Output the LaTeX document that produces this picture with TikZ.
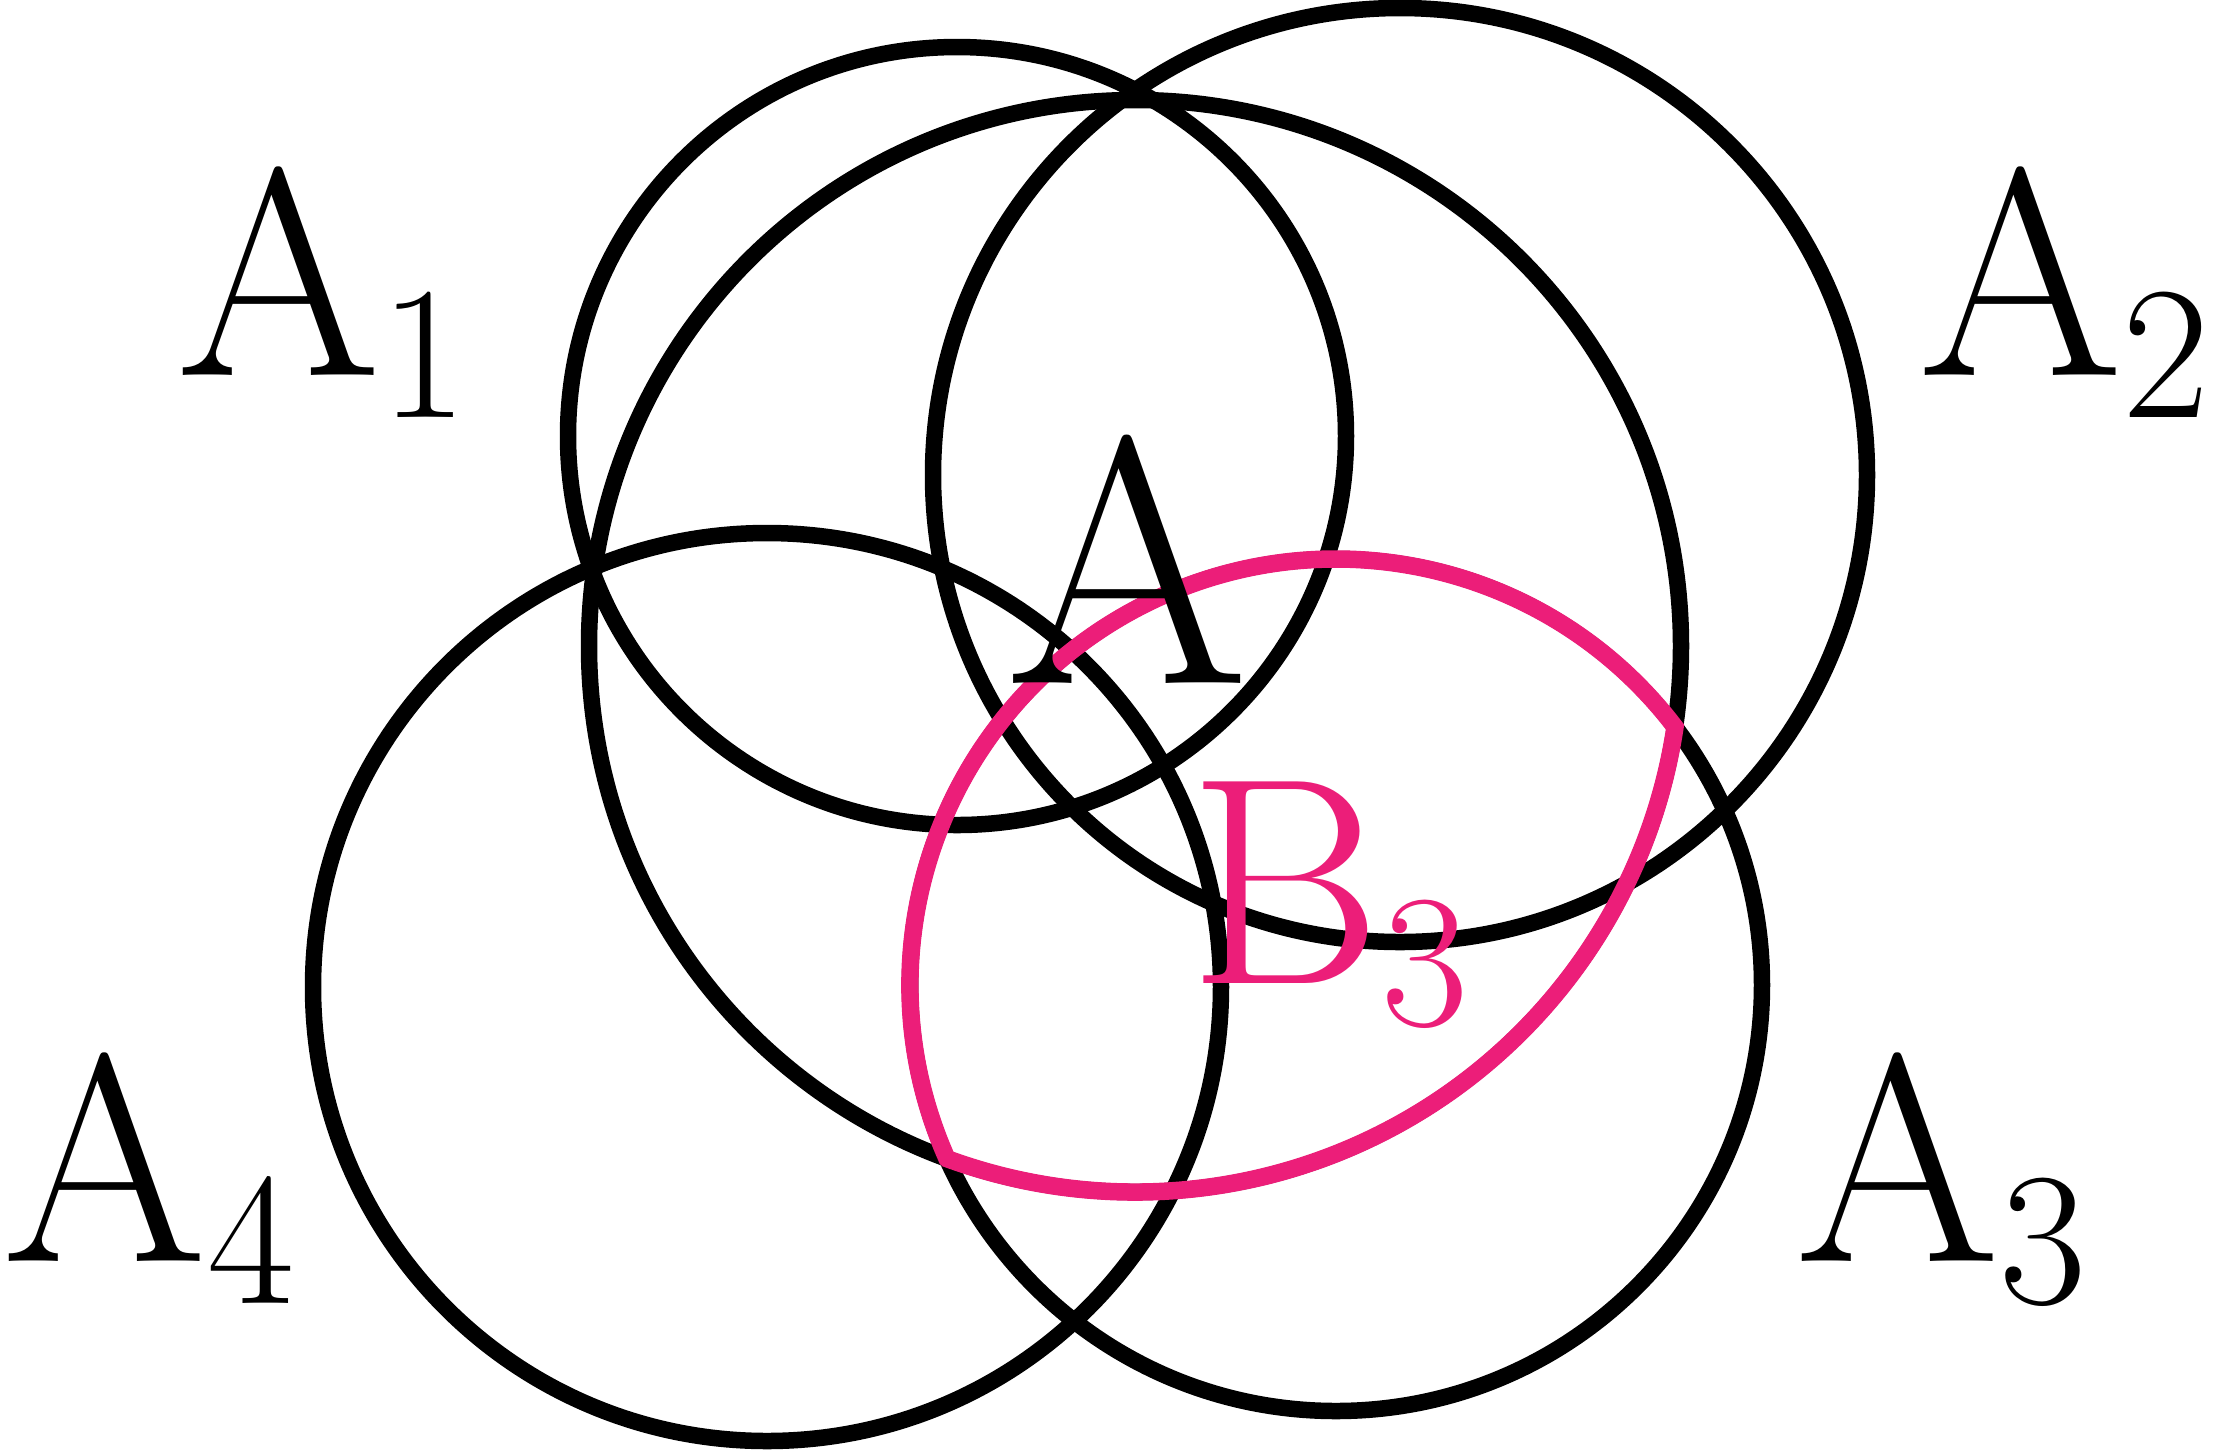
\documentclass[tikz,border=0pt]{standalone}
\usepackage{tikz}
\usetikzlibrary{positioning}
\definecolor{bpink}{HTML}{EC1E79}
\newcommand{\lowsub}[1]{\raisebox{-12.2pt}{\fontsize{54}{60}\selectfont #1}}

\begin{document}
\begin{tikzpicture}[x=0.1mm, y=-0.1mm,
    ring/.style={line width=1.65mm, draw=black},
    bring/.style={line width=1.75mm, draw=bpink},
    lbl/.style={inner sep=0pt, anchor=base, font=\fontsize{84}{90}\selectfont}]
    \useasboundingbox (0,0) rectangle (2228,1452);

    % Centres of the sets
    \coordinate (cA1) at (957,436);
    \coordinate (cA2) at (1400,475);
    \coordinate (cA)  at (1135,646);
    \coordinate (cA3) at (1336,985);
    \coordinate (cA4) at (767,987);

    % Circles
    \draw[ring] (cA1) circle[radius=389];
    \draw[ring] (cA2) circle[radius=467];
    \draw[ring] (cA)  circle[radius=546];
    \draw[ring] (cA3) circle[radius=426];
    \draw[ring] (cA4) circle[radius=454];

    % B3: common part of A and A3
    \coordinate (pB) at (947,1158.6);
    \draw[bring] (pB) arc[start angle=155.95, end angle=322.73, radius=426]
        arc[start angle=8.53, end angle=110.14, radius=546] -- cycle;

    % Labels
    \node[lbl] (lA1) at (322,375) {A\lowsub{1}};
    \node[lbl] (lA2) at (2064,375) {A\lowsub{2}};
    \node[lbl] (lA3) at (1941,1261) {A\lowsub{3}};
    \node[lbl, anchor=base west] (lA4) at (2,1261) {A\lowsub{4}};
    \node[lbl, font=\fontsize{100}{110}\selectfont] (lA) at (1127,683) {A};
    \node[lbl, text=bpink] (lB3) at (1329,983) {B\lowsub{3}};
\end{tikzpicture}
\end{document}
